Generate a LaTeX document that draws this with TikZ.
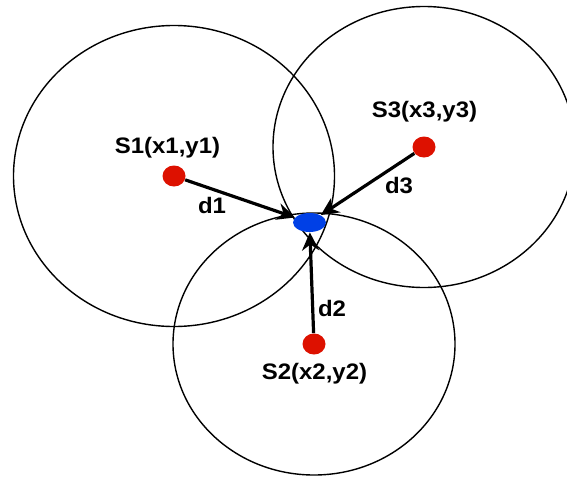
\documentclass[tikz,border=0pt]{standalone}
\usepackage{fontspec}
\setmainfont{Liberation Sans}[FakeStretch=1.07]
\usetikzlibrary{shapes.geometric,arrows.meta}
\definecolor{dotred}{RGB}{221,17,0}
\definecolor{dotblue}{RGB}{0,64,230}
\tikzset{
  sensor/.style={ellipse,fill=dotred,inner sep=0pt,minimum width=11.5pt,minimum height=10.5pt},
  target/.style={ellipse,fill=dotblue,inner sep=0pt,minimum width=16.5pt,minimum height=9.5pt},
  rangeline/.style={line width=0.7pt},
  dist/.style={line width=1.6pt,-{Stealth[length=9pt,width=8.5pt,inset=3pt]}},
  lbl/.style={font=\bfseries\fontsize{11.2}{13}\selectfont,inner sep=0pt}
}
\begin{document}
\begin{tikzpicture}[x=0.5pt,y=-0.5pt]
\useasboundingbox (0,0) rectangle (567,477);
\clip (0,0) rectangle (567,477);
  % sensor positions
  \coordinate (c1) at (174,176);
  \coordinate (c2) at (314,344);
  \coordinate (c3) at (424,147);
  % ranges
  \draw[rangeline] (c1) ellipse [x radius=160.5, y radius=150.5];
  \draw[rangeline] (c2) ellipse [x radius=141, y radius=131];
  \draw[rangeline] (c3) ellipse [x radius=151, y radius=140.5];
  \node[sensor] (s1) at (c1) {};
  \node[sensor] (s2) at (c2) {};
  \node[sensor] (s3) at (c3) {};
  \node[target] (p) at (309.5,222.5) {};
  \draw[dist] (s1) -- (p);
  \draw[dist] (s2) -- (p);
  \draw[dist] (s3) -- (p);
  \node[lbl] (l1) at (167.5,148) {S1(x1,y1)};
  \node[lbl] (l2) at (314.5,374) {S2(x2,y2)};
  \node[lbl] (l3) at (424.5,112) {S3(x3,y3)};
  \node[lbl] (d1) at (212,205) {d1};
  \node[lbl] (d2) at (332,308) {d2};
  \node[lbl] (d3) at (399,186) {d3};
\end{tikzpicture}
\end{document}
